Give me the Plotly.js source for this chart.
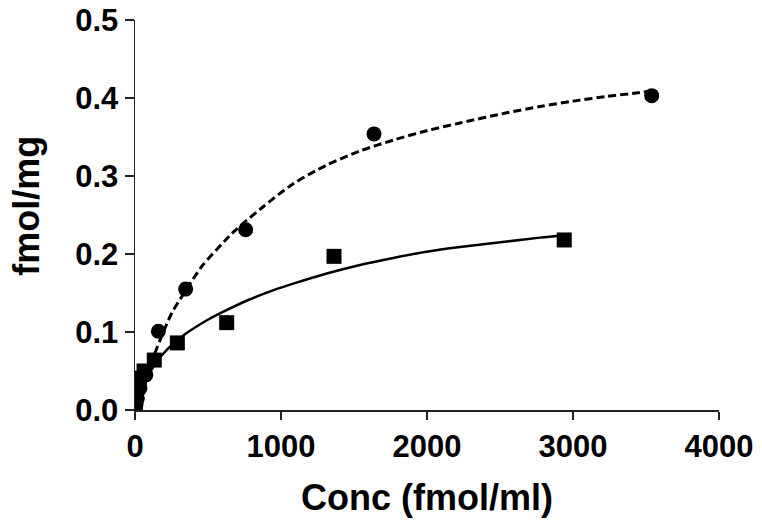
<!DOCTYPE html>
<html>
<head>
<meta charset="utf-8">
<script src="https://cdn.plot.ly/plotly-3.0.1.min.js"></script>
<style>html,body{margin:0;padding:0;background:#fff;}#chart{width:762px;height:531px;}</style>
</head>
<body>
<div id="chart"></div>
<script>
// Data
var circleX = [3, 7, 16, 34, 74, 160, 347, 758, 1637, 3539];
var circleY = [0.003, 0.007, 0.015, 0.028, 0.045, 0.101, 0.155, 0.231, 0.354, 0.403];

var squareX = [3, 7, 14, 30, 62, 132, 290, 628, 1363, 2940];
var squareY = [0.008, 0.018, 0.029, 0.041, 0.050, 0.064, 0.086, 0.112, 0.197, 0.218];

// Fitted curves
var dashFitX = [0, 60, 130, 190, 251, 347, 457, 616, 685, 867, 1084, 1313, 1541, 1769, 1998, 2226, 2546, 2774, 3002, 3231, 3459, 3540];
var dashFitY = [0, 0.035, 0.070, 0.098, 0.124, 0.153, 0.184, 0.217, 0.230, 0.259, 0.290, 0.314, 0.332, 0.346, 0.358, 0.368, 0.381, 0.389, 0.396, 0.402, 0.407, 0.409];

var solidFitX = [0, 60, 130, 228, 342, 502, 616, 776, 954, 1084, 1313, 1541, 1769, 1998, 2226, 2546, 2774, 2940];
var solidFitY = [0, 0.030, 0.057, 0.079, 0.097, 0.116, 0.127, 0.141, 0.154, 0.162, 0.175, 0.186, 0.195, 0.203, 0.209, 0.216, 0.221, 0.224];

var xTicks = [0, 1000, 2000, 3000, 4000];
var yTicks = [0, 0.1, 0.2, 0.3, 0.4, 0.5];

var xTitle = 'Conc (fmol/ml)';
var yTitle = 'fmol/mg';

var fontFam = 'Liberation Sans, Arial, Helvetica, sans-serif';

var traces = [
  {x: dashFitX, y: dashFitY, mode: 'lines', line: {color: '#000', width: 3, dash: '8px,4px', shape: 'spline', smoothing: 0.8}, hoverinfo: 'skip'},
  {x: solidFitX, y: solidFitY, mode: 'lines', line: {color: '#000', width: 2.5, shape: 'spline', smoothing: 0.8}, hoverinfo: 'skip'},
  {x: circleX, y: circleY, mode: 'markers', marker: {symbol: 'circle', size: 15, color: '#000'}},
  {x: squareX, y: squareY, mode: 'markers', marker: {symbol: 'square', size: 15, color: '#000'}}
];

var layout = {
  width: 762, height: 531,
  margin: {l: 135, r: 43, t: 20, b: 121},
  paper_bgcolor: '#fff', plot_bgcolor: '#fff',
  showlegend: false,
  font: {family: fontFam, color: '#000'},
  xaxis: {
    range: [0, 4000], tickvals: xTicks, ticktext: xTicks.map(String),
    showgrid: false, zeroline: false, showline: true, linecolor: '#222', linewidth: 1.5,
    ticks: 'outside', ticklen: 8, tickwidth: 1.5, tickcolor: '#222',
    tickfont: {family: fontFam, size: 31, weight: 'bold', color: '#000'},
    title: {text: xTitle, font: {family: fontFam, size: 36, weight: 'bold', color: '#000'}, standoff: 22},
    automargin: false
  },
  yaxis: {
    range: [0, 0.5], tickvals: yTicks, ticktext: yTicks.map(function(v){return v.toFixed(1);}),
    showgrid: false, zeroline: false, showline: true, linecolor: '#222', linewidth: 1.5,
    ticks: 'outside', ticklen: 9, tickwidth: 1.5, tickcolor: '#222',
    tickfont: {family: fontFam, size: 31, weight: 'bold', color: '#000'},
    automargin: false
  },
  annotations: [{
    text: yTitle, textangle: -90, showarrow: false,
    xref: 'paper', yref: 'paper', x: -0.187, y: 0.523, xanchor: 'center', yanchor: 'middle',
    font: {family: fontFam, size: 36, weight: 'bold', color: '#000'}
  }]
};

Plotly.newPlot('chart', traces, layout, {staticPlot: true, displayModeBar: false});
</script>
</body>
</html>
